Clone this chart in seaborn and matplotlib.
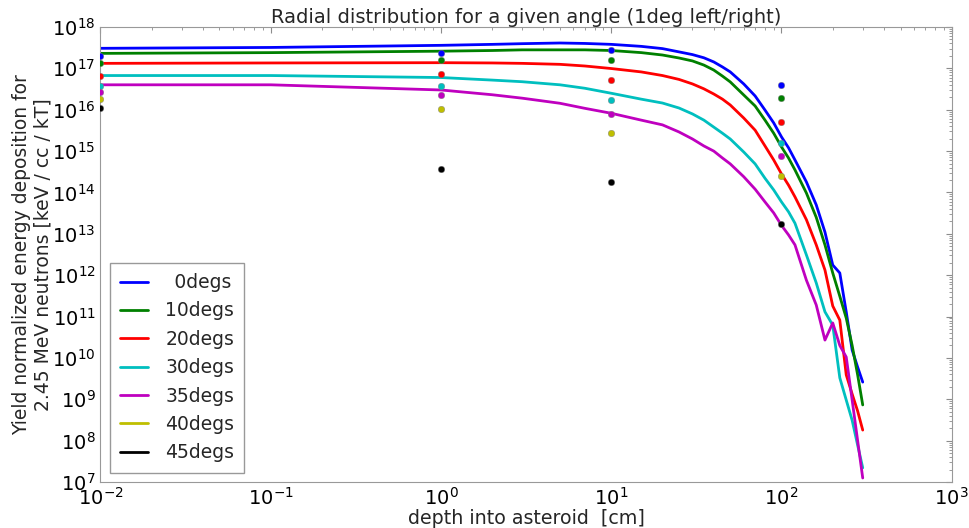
import seaborn as sns
import matplotlib.pyplot as plt
from matplotlib.lines import Line2D
from matplotlib.ticker import LogLocator

# depth grid of the simulated curves [cm]
depth = [0.01, 0.1, 1, 2, 3, 5, 7, 10, 15, 20, 25, 30, 35, 40, 45, 50, 60, 70, 80, 90,
         100, 110, 120, 140, 160, 180, 200, 220, 240, 260, 280, 300]

# yield curves per angle
deg0 = [3.05e17, 3.2e17, 3.6e17, 3.8e17, 3.95e17, 4.1e17, 4.0e17, 3.8e17, 3.4e17, 3.0e17,
        2.5e17, 2.15e17, 1.8e17, 1.43e17, 1.08e17, 8.2e16, 4.2e16, 2.15e16, 9.8e15, 4.8e15,
        2.2e15, 1.2e15, 6.1e14, 1.8e14, 5.0e13, 1.1e13, 1.76e12, 1.13e12, 1.3e11, 1.55e10,
        6.0e9, 2.6e9]
deg10 = [2.3e17, 2.4e17, 2.6e17, 2.7e17, 2.8e17, 2.8e17, 2.8e17, 2.7e17, 2.4e17, 2.1e17,
         1.78e17, 1.51e17, 1.2e17, 9.1e16, 6.5e16, 4.7e16, 2.27e16, 1.23e16, 5.6e15, 2.7e15,
         1.26e15, 6.8e14, 3.5e14, 9.7e13, 2.5e13, 5.4e12, 1.13e12, 3.1e11, 9.2e10, 2.0e10,
         3.9e9, 7.3e8]
deg20 = [1.32e17, 1.35e17, 1.37e17, 1.35e17, 1.32e17, 1.25e17, 1.14e17, 9.9e16, 8.2e16, 6.7e16,
         5.4e16, 4.2e16, 3.2e16, 2.4e16, 1.8e16, 1.3e16, 6.3e15, 3.2e15, 1.33e15, 6.1e14,
         2.8e14, 1.5e14, 7.8e13, 2.2e13, 5.4e12, 1.33e12, 1.8e11, 8.2e10, 3.9e9, 1.34e9,
         5.2e8, 1.8e8]
deg30 = [6.7e16, 6.7e16, 6.0e16, 5.2e16, 4.75e16, 4.0e16, 3.3e16, 2.5e16, 1.8e16, 1.45e16,
         1.1e16, 7.9e15, 5.6e15, 3.8e15, 2.7e15, 1.96e15, 9.5e14, 4.9e14, 2.2e14, 1.15e14,
         5.9e13, 3.4e13, 1.8e13, 3.1e12, 6.5e11, 1.3e11, 6.2e10, 3.3e9, 9.6e8, 3.1e8,
         7.8e7, 2.2e7]
deg35 = [4.0e16, 4.0e16, 3.0e16, 2.3e16, 1.9e16, 1.43e16, 1.08e16, 8.2e15, 5.6e15, 4.3e15,
         2.9e15, 1.96e15, 1.33e15, 1.0e15, 6.8e14, 4.9e14, 2.4e14, 1.2e14, 5.9e13, 3.2e13,
         1.6e13, 9.4e12, 5.4e12, 7.6e11, 1.9e11, 2.7e10, 7.0e10, 2.0e10, 1.05e10, 9.6e8,
         1.0e8, 1.25e7]

# measured points
depth_pts = [0.01, 1, 10, 100]
pts = {
    0: [2.0e17, 2.35e17, 2.8e17, 3.9e16],
    10: [1.35e17, 1.57e17, 1.62e17, 1.9e16],
    20: [6.5e16, 7.3e16, 5.2e16, 5.0e15],
    30: [3.7e16, 3.7e16, 1.7e16, 1.6e15],
    35: [2.75e16, 2.3e16, 7.9e15, 7.6e14],
    40: [1.8e16, 1.02e16, 2.7e15, 2.5e14],
    45: [1.1e16, 3.7e14, 1.8e14, 1.7e13],
}

angles = [0, 10, 20, 30, 35, 40, 45]
curves = {0: deg0, 10: deg10, 20: deg20, 30: deg30, 35: deg35}
colors = {0: (0, 0, 1), 10: (0, 0.5, 0), 20: (1, 0, 0), 30: (0, 0.75, 0.75),
          35: (0.75, 0, 0.75), 40: (0.75, 0.75, 0), 45: (0, 0, 0)}

sns.set_style("white")
plt.rcParams['font.family'] = ['DejaVu Sans']

fig = plt.figure(figsize=(9.69, 5.28), dpi=100)
ax = fig.add_axes([0.1037, 0.0871, 0.8785, 0.8618])

for a in angles:
    if a in curves:
        sns.lineplot(x=depth, y=curves[a], color=colors[a], lw=2, ax=ax,
                     legend=False, sort=False)
for a in angles:
    sns.scatterplot(x=depth_pts, y=pts[a], color=colors[a], s=22,
                    edgecolor='0.5', linewidth=0.3, ax=ax, legend=False, zorder=3)

ax.set_xscale('log')
ax.set_yscale('log')
ax.set_xlim(1e-2, 1e3)
ax.set_ylim(1e7, 1e18)
ax.yaxis.set_major_locator(LogLocator(base=10, numticks=20))
ax.yaxis.set_minor_locator(LogLocator(base=10, subs=range(2, 10), numticks=20))
ax.tick_params(which='both', direction='in', top=True, right=True, colors='0.55',
               labelcolor='black', labelsize=14)
ax.tick_params(which='major', length=4)
ax.tick_params(which='minor', length=2)
for s in ax.spines.values():
    s.set_color('0.6')

ax.set_title('Radial distribution for a given angle (1deg left/right)', fontsize=14, pad=3)
ax.set_xlabel('depth into asteroid  [cm]', fontsize=13.7, labelpad=0)
ax.set_ylabel('Yield normalized energy deposition for\n2.45 MeV neutrons [keV / cc / kT]',
              fontsize=13.5, labelpad=-0.5)

handles = [Line2D([], [], color=colors[a], lw=2) for a in angles]
labels = [('\u2002%ddegs' % a) if a < 10 else ('%ddegs' % a) for a in angles]
ax.legend(handles, labels, loc='lower left', fontsize=13.5, fancybox=False,
          framealpha=1, edgecolor='0.6', handlelength=1.5, handletextpad=0.9,
          labelspacing=0.5, borderpad=0.55, borderaxespad=0.5)

fig.savefig('out.png', dpi=100)
